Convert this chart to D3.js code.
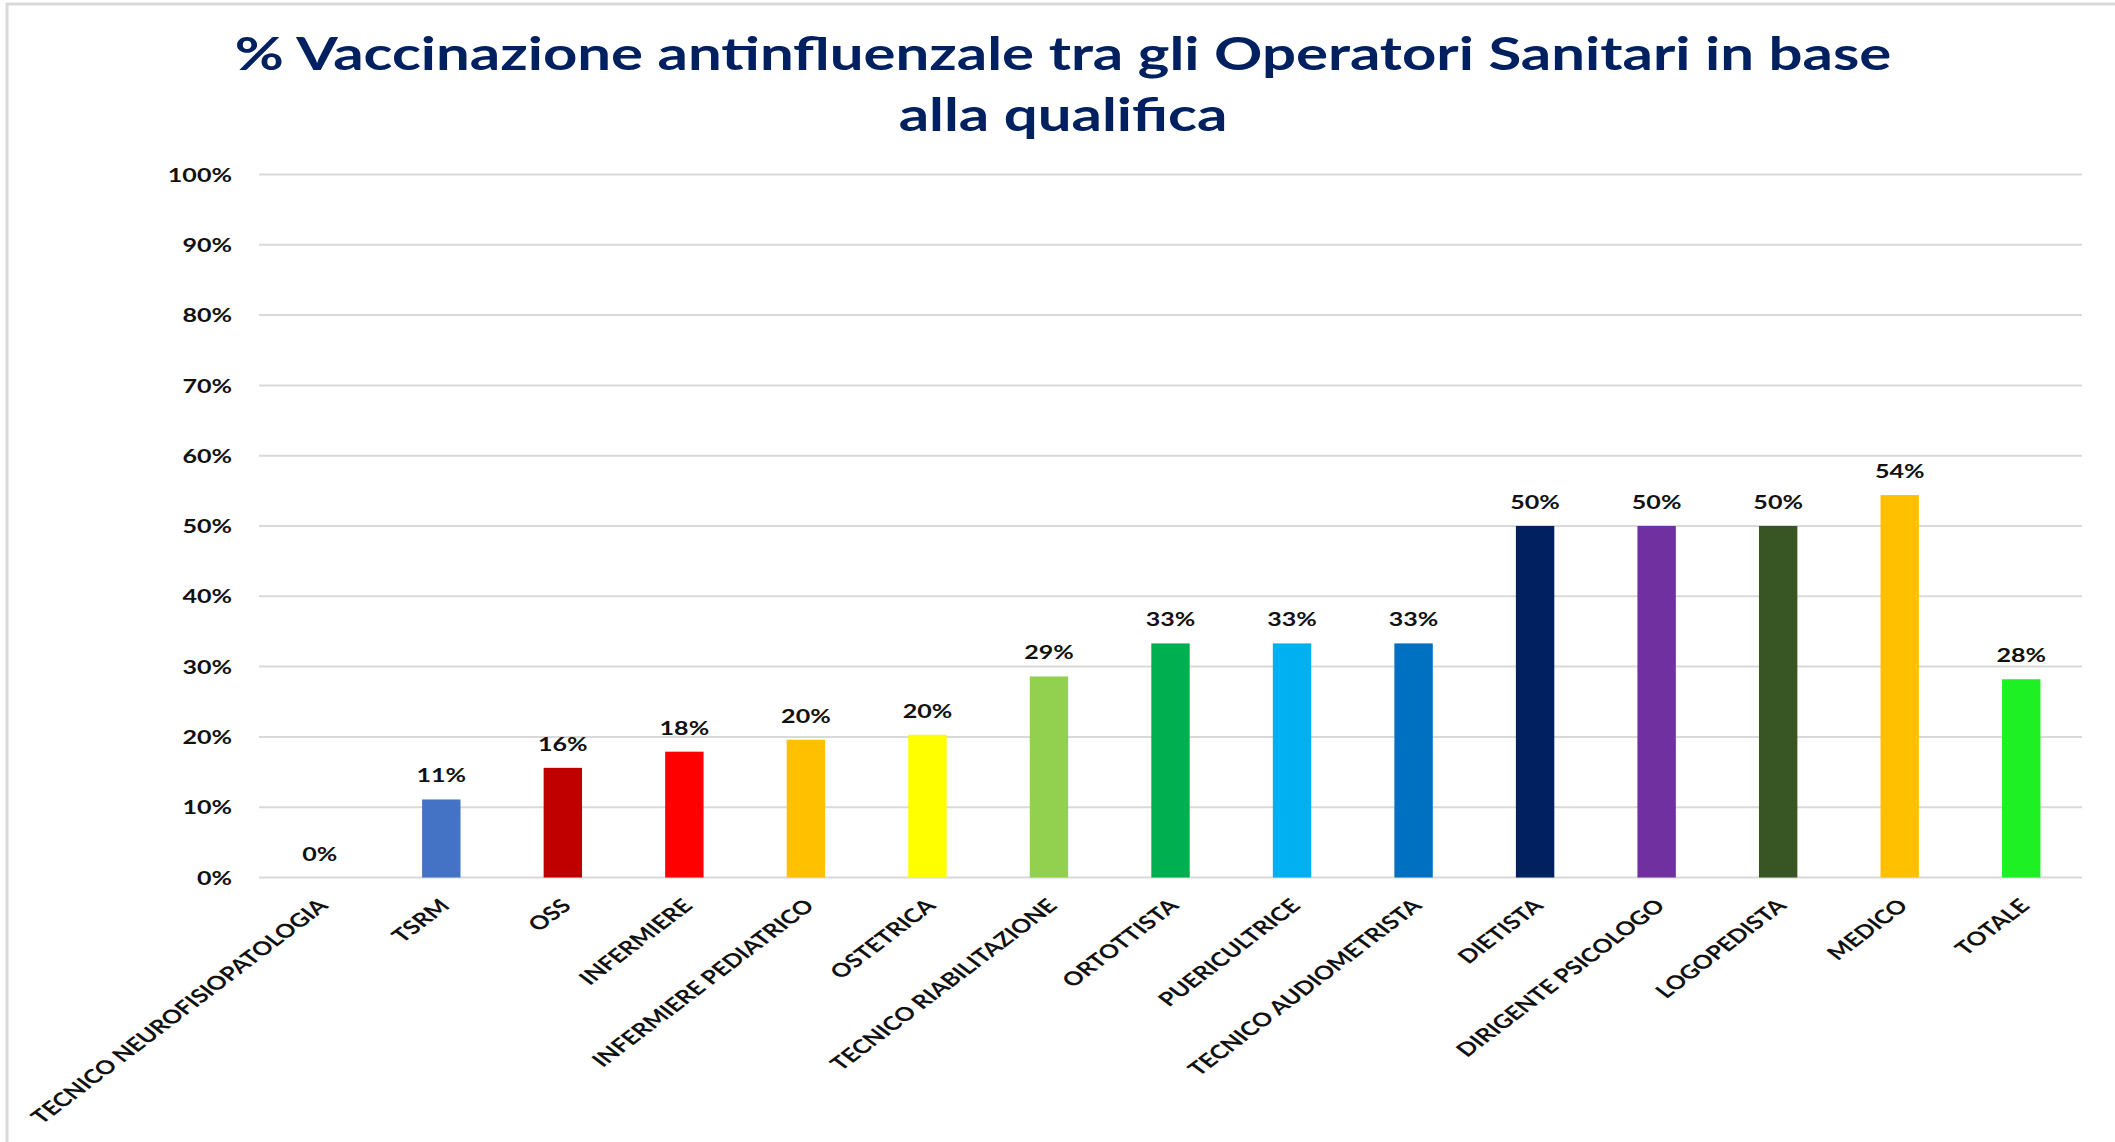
<!DOCTYPE html>
<html>
<head>
<meta charset="utf-8">
<script src="https://cdn.jsdelivr.net/npm/d3@7"></script>
<style>
  html, body { margin: 0; padding: 0; background: #fff; }
  svg { display: block; }
</style>
</head>
<body>
<div id="chart"></div>
<script>
  // dati
  var titleLines = ['% Vaccinazione antinfluenzale tra gli Operatori Sanitari in base', 'alla qualifica'];

  var categories = [
    'TECNICO NEUROFISIOPATOLOGIA', 'TSRM', 'OSS', 'INFERMIERE', 'INFERMIERE PEDIATRICO',
    'OSTETRICA', 'TECNICO RIABILITAZIONE', 'ORTOTTISTA', 'PUERICULTRICE', 'TECNICO AUDIOMETRISTA',
    'DIETISTA', 'DIRIGENTE PSICOLOGO', 'LOGOPEDISTA', 'MEDICO', 'TOTALE'
  ];

  var values = [0, 11.1, 15.6, 17.9, 19.6, 20.3, 28.6, 33.3, 33.3, 33.3, 50, 50, 50, 54.4, 28.2];

  var barColors = [
    '#4472C4', '#4472C4', '#C00000', '#FF0000', '#FFC000',
    '#FFFF00', '#92D050', '#00B050', '#00B0F0', '#0070C0',
    '#002060', '#7030A0', '#375623', '#FFC000', '#1DF124'
  ];

  var yTicks = [0, 10, 20, 30, 40, 50, 60, 70, 80, 90, 100];

  var data = categories.map(function(c, i) {
    return {cat: c, value: values[i], color: barColors[i]};
  });

  // afmetingen
  var width = 2115, height = 1142;
  var plot = {left: 259, right: 2082, top: 174.5, bottom: 877.5};
  var textStretch = 1.32;   // il grafico originale è allungato in orizzontale
  var fontFamily = 'Lato, "Open Sans", sans-serif';

  var svg = d3.select('#chart')
    .append('svg')
    .attr('width', width)
    .attr('height', height);

  // cornice grigia
  svg.append('rect')
    .attr('x', 7)
    .attr('y', 4)
    .attr('width', width + 20)
    .attr('height', height + 20)
    .attr('fill', 'none')
    .attr('stroke', '#d9d9d9')
    .attr('stroke-width', 3);

  var xScale = d3.scaleBand()
    .domain(categories)
    .range([plot.left, plot.right])
    .paddingInner(0.684)
    .paddingOuter(0.342);

  var yScale = d3.scaleLinear()
    .domain([0, 100])
    .range([plot.bottom, plot.top]);

  // griglia
  svg.append('g')
    .attr('class', 'grid')
    .selectAll('line')
    .data(yTicks)
    .enter().append('line')
    .attr('x1', plot.left)
    .attr('x2', plot.right)
    .attr('y1', function(d) { return yScale(d); })
    .attr('y2', function(d) { return yScale(d); })
    .attr('stroke', '#d9d9d9')
    .attr('stroke-width', 2);

  // asse y
  var yAxis = d3.axisLeft(yScale)
    .tickValues(yTicks)
    .tickSize(0)
    .tickFormat(function(d) { return d + '%'; });

  var yG = svg.append('g')
    .attr('transform', 'translate(' + (plot.left - 27) + ',0)')
    .call(yAxis);
  yG.select('.domain').remove();
  yG.selectAll('text')
    .attr('x', null)
    .attr('dy', '0.35em')
    .attr('transform', 'scale(' + textStretch + ',1)')
    .attr('font-family', fontFamily)
    .attr('font-weight', 'bold')
    .attr('font-size', 19)
    .attr('fill', '#111');

  // barre
  svg.selectAll('.bar')
    .data(data)
    .enter().append('rect')
    .attr('class', 'bar')
    .attr('x', function(d) { return xScale(d.cat); })
    .attr('y', function(d) { return yScale(d.value); })
    .attr('width', xScale.bandwidth())
    .attr('height', function(d) { return yScale(0) - yScale(d.value); })
    .attr('fill', function(d) { return d.color; });

  // etichette dei valori
  svg.selectAll('.value-label')
    .data(data)
    .enter().append('text')
    .attr('class', 'value-label')
    .attr('transform', function(d) {
      return 'translate(' + (xScale(d.cat) + xScale.bandwidth() / 2) + ',' + (yScale(d.value) - 17) + ') scale(' + textStretch + ',1)';
    })
    .attr('text-anchor', 'middle')
    .attr('font-family', fontFamily)
    .attr('font-weight', 'bold')
    .attr('font-size', 19)
    .attr('fill', '#111')
    .text(function(d) { return Math.round(d.value) + '%'; });

  // etichette asse x, ruotate
  svg.selectAll('.cat-label')
    .data(data)
    .enter().append('text')
    .attr('class', 'cat-label')
    .attr('transform', function(d) {
      return 'translate(' + (xScale(d.cat) + xScale.bandwidth() / 2 - 3) + ',' + (plot.bottom + 20) + ') scale(' + textStretch + ',1) rotate(-45)';
    })
    .attr('text-anchor', 'end')
    .attr('dy', '0.71em')
    .attr('font-family', fontFamily)
    .attr('font-weight', 'bold')
    .attr('font-size', 19)
    .attr('fill', '#111')
    .text(function(d) { return d.cat; });

  // titolo
  var title = svg.append('g').attr('class', 'title');
  var titleText = title.selectAll('text')
    .data(titleLines)
    .enter().append('text')
    .attr('text-anchor', 'middle')
    .attr('font-family', fontFamily)
    .attr('font-weight', 'bold')
    .attr('font-size', 46)
    .attr('fill', '#002060')
    .text(function(d) { return d; });

  // allarga il titolo fino alla larghezza dell'originale
  var natural = titleText.nodes()[0].getComputedTextLength();
  var titleStretch = 1657 / natural;
  titleText.attr('transform', function(d, i) {
    return 'translate(1063,' + (70 + i * 61) + ') scale(' + titleStretch + ',1)';
  });
</script>
</body>
</html>
